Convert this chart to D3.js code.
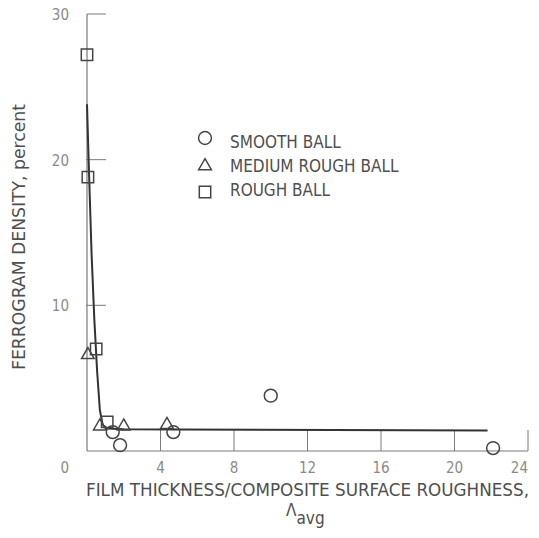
<!DOCTYPE html>
<html>
<head>
<meta charset="utf-8">
<script src="https://d3js.org/d3.v7.min.js"></script>
<style>
  body { margin: 0; background: #fff; }
  svg text { font-family: "DejaVu Sans Condensed", "Liberation Sans Narrow", sans-serif; }
  .tick-label { fill: #8a8a8a; font-size: 15px; }
  .axis-title { fill: #4f4f4f; font-size: 17px; }
  .legend text { fill: #4f4f4f; font-size: 17px; }
</style>
</head>
<body>
<div id="chart"></div>
<script>
// data
var smoothBall = [[1.4, 1.3], [1.8, 0.4], [4.7, 1.3], [10.0, 3.8], [22.1, 0.2]];
var mediumBall = [[0.05, 6.6], [0.7, 1.7], [2.0, 1.7], [4.35, 1.8]];
var roughBall = [[0.0, 27.2], [0.05, 18.8], [0.5, 7.0], [1.1, 2.0]];
var fitCurve = [[0.0, 23.8], [0.1, 19.5], [0.25, 13.5], [0.4, 9.0], [0.55, 5.5], [0.7, 2.8], [0.85, 1.8], [1.1, 1.55], [2, 1.5], [5, 1.47], [21.8, 1.4]];
var xTicks = [0, 4, 8, 12, 16, 20, 24];
var yTicks = [0, 10, 20, 30];
var legendItems = ["SMOOTH BALL", "MEDIUM ROUGH BALL", "ROUGH BALL"];

var width = 539, height = 538;
var svg = d3.select("#chart").append("svg")
    .attr("width", width)
    .attr("height", height);

var x = d3.scaleLinear().domain([0, 24]).range([87, 528]);
var y = d3.scaleLinear().domain([0, 30]).range([451, 14]);

var axisColor = "#7a7a7a";

// y axis line + ticks pointing inward
svg.append("line")
    .attr("x1", x(0)).attr("x2", x(0))
    .attr("y1", y(30)).attr("y2", y(0))
    .attr("stroke", axisColor).attr("stroke-width", 1.2);

svg.selectAll(".ytick").data(yTicks.filter(function(d) { return d > 0; }))
    .enter().append("line")
    .attr("x1", function(d) { return d == 30 ? x(0) : x(0) - 1; })
    .attr("x2", x(0) + 19)
    .attr("y1", function(d) { return y(d); })
    .attr("y2", function(d) { return y(d); })
    .attr("stroke", axisColor).attr("stroke-width", 1);

svg.selectAll(".ylab").data(yTicks)
    .enter().append("text")
    .attr("class", "tick-label")
    .attr("x", 69)
    .attr("y", function(d) { return d == 0 ? y(0) + 22 : y(d) + 6; })
    .attr("text-anchor", "end")
    .text(function(d) { return d; });

// x axis line + ticks pointing up
svg.append("line")
    .attr("x1", x(0)).attr("x2", x(24))
    .attr("y1", y(0)).attr("y2", y(0))
    .attr("stroke", axisColor).attr("stroke-width", 1.2);

svg.selectAll(".xtick").data(xTicks.filter(function(d) { return d > 0; }))
    .enter().append("line")
    .attr("x1", function(d) { return x(d); })
    .attr("x2", function(d) { return x(d); })
    .attr("y1", y(0))
    .attr("y2", y(0) - 21)
    .attr("stroke", axisColor).attr("stroke-width", 1);

svg.selectAll(".xlab").data(xTicks.filter(function(d) { return d > 0; }))
    .enter().append("text")
    .attr("class", "tick-label")
    .attr("x", function(d) { return x(d); })
    .attr("y", y(0) + 22)
    .attr("text-anchor", function(d) { return d == 24 ? "end" : "middle"; })
    .text(function(d) { return d; });

// axis titles
svg.append("text")
    .attr("class", "axis-title")
    .attr("transform", "translate(25,237) rotate(-90)")
    .attr("text-anchor", "middle")
    .attr("textLength", 266)
    .attr("lengthAdjust", "spacingAndGlyphs")
    .text("FERROGRAM DENSITY, percent");

svg.append("text")
    .attr("class", "axis-title")
    .attr("x", 86).attr("y", 496)
    .attr("textLength", 443)
    .attr("lengthAdjust", "spacingAndGlyphs")
    .text("FILM THICKNESS/COMPOSITE SURFACE ROUGHNESS,");

var lam = svg.append("text")
    .attr("class", "axis-title")
    .attr("x", 286).attr("y", 516);
lam.append("tspan").text("\u039B");
lam.append("tspan").attr("dy", 8).text("avg");

// fitted curve
svg.append("path")
    .datum(fitCurve)
    .attr("d", d3.line()
        .x(function(d) { return x(d[0]); })
        .y(function(d) { return y(d[1]); }))
    .attr("fill", "none")
    .attr("stroke", "#333")
    .attr("stroke-width", 2);

// markers
var markColor = "#444";
var circleSym = d3.symbol().type(d3.symbolCircle).size(130);
var triSym = d3.symbol().type(d3.symbolTriangle).size(70);
var sqSym = d3.symbol().type(d3.symbolSquare).size(130);

function drawMarks(data, sym) {
    svg.append("g").selectAll("path")
        .data(data)
        .enter().append("path")
        .attr("transform", function(d) { return "translate(" + x(d[0]) + "," + y(d[1]) + ")"; })
        .attr("d", sym)
        .attr("fill", "none")
        .attr("stroke", markColor)
        .attr("stroke-width", 1.5);
}
drawMarks(smoothBall, circleSym);
drawMarks(mediumBall, triSym);
drawMarks(roughBall, sqSym);

// legend
var legend = svg.append("g").attr("class", "legend");
var legendSyms = [circleSym, triSym, sqSym];
var legendSymY = [138, 166, 192];
var legendTextY = [148, 172, 196];
legendItems.forEach(function(name, i) {
    legend.append("path")
        .attr("transform", "translate(205," + legendSymY[i] + ")")
        .attr("d", legendSyms[i])
        .attr("fill", "none")
        .attr("stroke", markColor)
        .attr("stroke-width", 1.5);
    legend.append("text")
        .attr("x", 230).attr("y", legendTextY[i])
        .text(name);
});
</script>
</body>
</html>
